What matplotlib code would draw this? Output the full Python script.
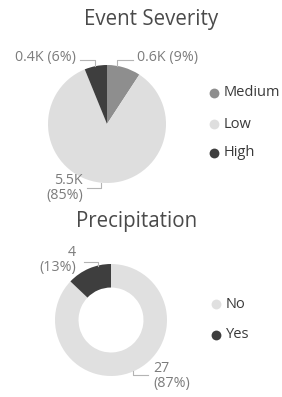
import numpy as np
import matplotlib.pyplot as plt

# ── Data ──────────────────────────────────────────────────────────────────────
severity_labels = ['Medium', 'Low', 'High']
severity_values = [600, 5500, 400]
severity_text   = ['0.6K (9%)', '5.5K\n(85%)', '0.4K (6%)']
severity_colors = ['#8e8e8e', '#dedede', '#3e3e3e']

precip_labels = ['No', 'Yes']
precip_values = [27, 4]
precip_text   = ['27\n(87%)', '4\n(13%)']
precip_colors = ['#e0e0e0', '#3e3e3e']

# ── Figure in pixel coordinates ───────────────────────────────────────────────
W, H = 282, 397
plt.rcParams['font.family'] = ['Open Sans', 'DejaVu Sans']
fig = plt.figure(figsize=(W / 100, H / 100), dpi=100)
ax = fig.add_axes([0, 0, 1, 1])

TITLE_C = '#4a4a4a'
LABEL_C = '#7c7c7c'
LEG_C = '#3a3a3a'
LINE_C = '#b4b4b4'
LBL_FS = 10.3
LEG_FS = 10.5
TTL_FS = 14.8


def y(px):
    return H - px


def edge_point(cx, cy, r, values, i, frac=0.5):
    """Point on the outer edge of wedge i (clockwise from 12 o'clock)."""
    tot = float(sum(values))
    start = sum(values[:i]) / tot
    ang = np.deg2rad(90 - 360 * (start + frac * values[i] / tot))
    return cx + r * np.cos(ang), cy + r * np.sin(ang)


def leader(pt, ye, xl):
    # vertical from wedge edge, then horizontal towards the label
    ax.plot([pt[0], pt[0], xl], [pt[1], ye, ye], color=LINE_C, lw=0.8)


def two_lines(txt, x, y1, y2, ha):
    for s, yy in zip(txt.split('\n'), [y1, y2]):
        ax.text(x, y(yy), s, ha=ha, va='center', fontsize=LBL_FS, color=LABEL_C)


# ── Event Severity pie ───────────────────────────────────────────────────────
cx1, cy1, r1 = 107, y(124), 59
ax.pie(severity_values, colors=severity_colors, startangle=90,
       counterclock=False, center=(cx1, cy1), radius=r1, frame=True,
       wedgeprops=dict(linewidth=0))
ax.text(151, y(20), 'Event Severity', ha='center', va='center',
        fontsize=TTL_FS, color=TITLE_C)

leader(edge_point(cx1, cy1, r1, severity_values, 0, 0.3), y(60), 133)
ax.text(137, y(58), severity_text[0], ha='left', va='center',
        fontsize=LBL_FS, color=LABEL_C)
leader(edge_point(cx1, cy1, r1, severity_values, 2, 0.47), y(60), 80)
ax.text(76, y(58), severity_text[2], ha='right', va='center',
        fontsize=LBL_FS, color=LABEL_C)
leader(edge_point(cx1, cy1, r1, severity_values, 1, 0.5), y(188), 87)
two_lines(severity_text[1], 83, 180, 196, 'right')

for lab, col, ry in zip(severity_labels, severity_colors, [93, 124, 153]):
    ax.scatter([214], [y(ry)], s=50, color=col, linewidths=0)
    ax.text(224, y(ry), lab, ha='left', va='center', fontsize=LEG_FS, color=LEG_C)

# ── Precipitation donut ──────────────────────────────────────────────────────
cx2, cy2, r2 = 111, y(320), 56
ax.pie(precip_values, colors=precip_colors, startangle=90,
       counterclock=False, center=(cx2, cy2), radius=r2, frame=True,
       wedgeprops=dict(width=r2 * 0.42, linewidth=0))
ax.text(137, y(222), 'Precipitation', ha='center', va='center',
        fontsize=TTL_FS, color=TITLE_C)

leader(edge_point(cx2, cy2, r2, precip_values, 1, 0.71), y(262), 84)
two_lines(precip_text[1], 76, 252, 268, 'right')
leader(edge_point(cx2, cy2, r2, precip_values, 0, 0.5), y(375), 148)
two_lines(precip_text[0], 153, 368, 384, 'left')

for lab, col, ry in zip(precip_labels, precip_colors, [304, 335]):
    ax.scatter([216], [y(ry)], s=50, color=col, linewidths=0)
    ax.text(226, y(ry), lab, ha='left', va='center', fontsize=LEG_FS, color=LEG_C)

ax.set_xlim(0, W)
ax.set_ylim(0, H)
ax.set_aspect('equal')
ax.axis('off')

fig.savefig('out.png', dpi=100, facecolor='white')
